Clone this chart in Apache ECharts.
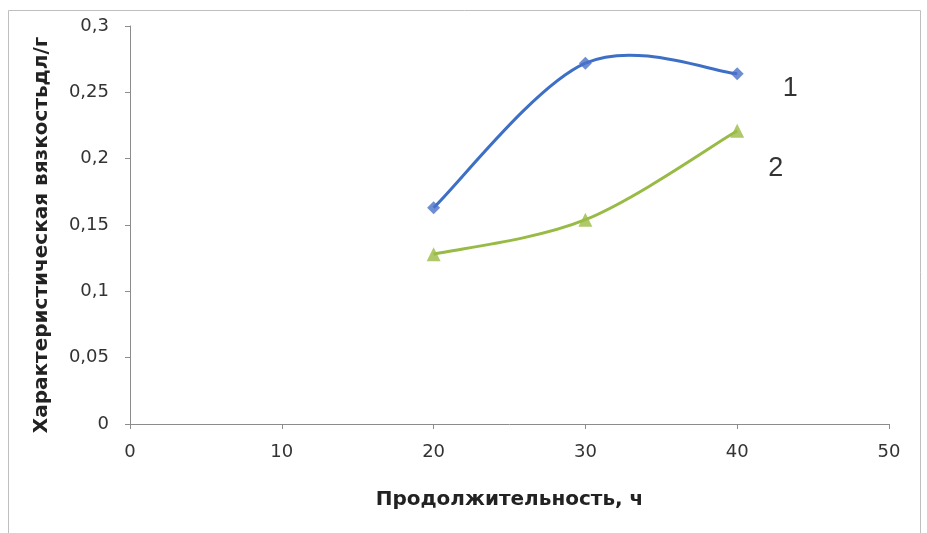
<!DOCTYPE html>
<html><head><meta charset="utf-8">
<script src="https://cdn.jsdelivr.net/npm/echarts@6/dist/echarts.min.js"></script>
<style>html,body{margin:0;padding:0;background:#fff}#c{width:927px;height:533px}</style>
</head><body><div id="c"></div>
<script>
var hours = [20, 30, 40];
var series1 = [0.163, 0.272, 0.264];
var series2 = [0.128, 0.154, 0.221];
var seriesNames = ['1', '2'];
var xTitle = 'Продолжительность, ч';
var yTitle = 'Характеристическая вязкостьдл/г';

function pairs(xs, ys){ return xs.map(function(x,i){ return [x, ys[i]]; }); }

// Excel-style smoothed line (Catmull-Rom style Bezier) drawn through the axis scales
function smoothSeries(data, color){
  return {
    type:'custom', data:data, encode:{x:0, y:1}, silent:true, z:2,
    renderItem:function(params, api){
      var i = params.dataIndex, n = data.length;
      if (i >= n-1) return null;
      var P = data.map(function(d){ return api.coord(d); });
      var p0 = P[Math.max(i-1,0)], p1 = P[i], p2 = P[i+1], p3 = P[Math.min(i+2,n-1)];
      var k = 1/6;
      return {type:'bezierCurve',
        shape:{x1:p1[0], y1:p1[1], x2:p2[0], y2:p2[1],
          cpx1:p1[0]+(p2[0]-p0[0])*k, cpy1:p1[1]+(p2[1]-p0[1])*k,
          cpx2:p2[0]-(p3[0]-p1[0])*k, cpy2:p2[1]-(p3[1]-p1[1])*k},
        style:{stroke:color, lineWidth:3, fill:null}};
    }
  };
}
function markers(data, name, symbol, size, color, offset){
  return {name:name, type:'scatter', z:3, symbol:symbol, symbolSize:size, itemStyle:{color:color},
    data:data.map(function(d,i){
      if(i === data.length-1){
        return {value:d, label:{show:true, formatter:name, position:'right', offset:offset,
          color:'#000', fontSize:27, fontFamily:'Liberation Sans, Arial, sans-serif'}};
      }
      return d;
    })};
}
var d1 = pairs(hours, series1), d2 = pairs(hours, series2);
var chart = echarts.init(document.getElementById('c'));
var font = 'DejaVu Sans, sans-serif';
chart.setOption({
  animation:false,
  graphic:[{type:'rect', shape:{x:8.5,y:10.5,width:912,height:540}, style:{fill:'none', stroke:'#bfbfbf', lineWidth:1}}],
  grid:{left:130, right:38, top:26, bottom:109},
  xAxis:{type:'value', min:0, max:50, interval:10,
    name:xTitle, nameLocation:'middle', nameGap:66,
    nameTextStyle:{fontSize:20, fontWeight:'bold', color:'#222', fontFamily:font},
    axisLine:{show:true, lineStyle:{color:'#8c8c8c', width:1}},
    axisTick:{show:true, length:5, lineStyle:{color:'#8c8c8c'}},
    axisLabel:{fontSize:18, color:'#333', margin:19, fontFamily:font},
    splitLine:{show:false}},
  yAxis:{type:'value', min:0, max:0.3, interval:0.05,
    name:yTitle, nameLocation:'middle', nameGap:78, nameRotate:90,
    nameTextStyle:{fontSize:20, fontWeight:'bold', color:'#222', fontFamily:font, padding:[0,20,0,0]},
    axisLine:{show:true, lineStyle:{color:'#8c8c8c', width:1}},
    axisTick:{show:true, length:5, lineStyle:{color:'#8c8c8c'}},
    axisLabel:{fontSize:18, color:'#333', margin:21, fontFamily:font,
      formatter:function(v){ return String(+v.toFixed(2)).replace('.', ','); }},
    splitLine:{show:false}},
  series:[
    smoothSeries(d1, '#3d6fc6'),
    smoothSeries(d2, '#98bb45'),
    markers(d1, seriesNames[0], 'diamond', 13, '#4a70c8', [34, 15]),
    markers(d2, seriesNames[1], 'triangle', 14, '#9bbb45', [19, 38])
  ]
});
</script></body></html>
